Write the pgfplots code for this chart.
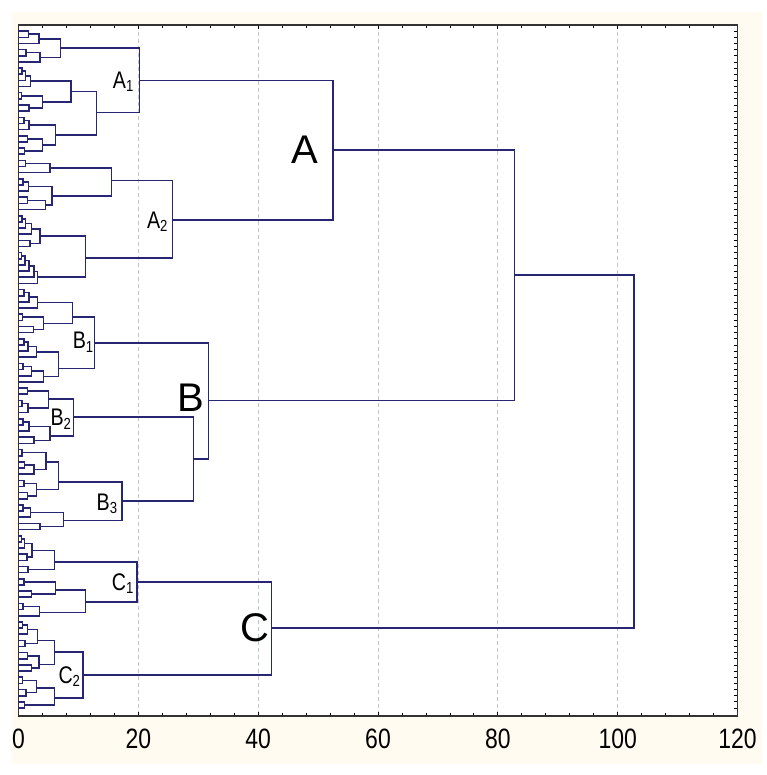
\documentclass[border=0pt]{standalone}
\usepackage{fontspec}
\setmainfont{Liberation Sans}
\newfontfamily\narrowsans{Liberation Sans}[FakeStretch=0.82]
\usepackage{pgfplots}
\pgfplotsset{compat=1.18}
\definecolor{dendro}{HTML}{262673}
\definecolor{paper}{HTML}{FFFBF0}
\definecolor{gridgray}{HTML}{C4C4C4}
\tikzset{dline/.style={dendro, solid, line width=0.8pt}}

\begin{document}
\begin{tikzpicture}
% page and cream frame (1 px of the reference = 0.5pt)
\fill[white] (0,0) rectangle (383pt,-387.5pt);
\fill[paper] (6pt,-6pt) rectangle (381pt,-382pt);
\begin{axis}[
    at={(9.25pt,-358pt)}, anchor=south west,
    scale only axis, width=359.5pt, height=345.5pt,
    xmin=0, xmax=120, ymin=-1, ymax=111.3, y dir=reverse,
    axis background/.style={fill=white},
    axis line style={black!80, line width=0.6pt},
    xtick={0,20,...,120}, minor x tick num=4,
    ytick={0,...,110}, yticklabel={\mbox{}},
    major tick length=2pt, minor tick length=1.3pt,
    tick style={black, line width=0.4pt},
    xmajorgrids,
    grid style={gridgray, dash pattern=on 2pt off 1.5pt, line width=0.4pt},
    xticklabel style={font=\narrowsans\fontsize{14}{14}\selectfont, yshift=-3pt},
    /pgf/number format/assume math mode=true,
    unbounded coords=jump,
    clip=false,
]

% ----- cluster A1 -----
\addplot[dline] coordinates {
(0,0) (1.7,0) (1.7,1) (0,1) (nan,nan)
(1.7,0.5) (3.4,0.5) (3.4,2) (0,2) (nan,nan)
(0,3) (1.3,3) (1.3,4) (0,4) (nan,nan)
(1.3,3.5) (3.6,3.5) (3.6,5) (0,5) (nan,nan)
(3.4,1.25) (7,1.25) (7,4.25) (3.6,4.25) (nan,nan)
(0,6) (0.6,6) (0.6,7) (0,7) (nan,nan)
(0.6,6.5) (1.2,6.5) (1.2,8) (0,8) (nan,nan)
(1.2,7.25) (2,7.25) (2,9) (0,9) (nan,nan)
(0,10) (0.5,10) (0.5,11) (0,11) (nan,nan)
(0,12) (1.8,12) (1.8,13) (0,13) (nan,nan)
(0.5,10.5) (4,10.5) (4,12.5) (1.8,12.5) (nan,nan)
(2,8.125) (8.8,8.125) (8.8,11.5) (4,11.5) (nan,nan)
(0,14) (0.9,14) (0.9,15) (0,15) (nan,nan)
(0.9,14.5) (1.8,14.5) (1.8,16) (0,16) (nan,nan)
(0,17) (1.5,17) (1.5,18) (0,18) (nan,nan)
(0,19) (1,19) (1,20) (0,20) (nan,nan)
(1.5,17.5) (4,17.5) (4,19.5) (1,19.5) (nan,nan)
(1.8,15.25) (6.2,15.25) (6.2,18.5) (4,18.5) (nan,nan)
(8.8,9.8) (13,9.8) (13,16.9) (6.2,16.9) (nan,nan)
(7,2.75) (20.2,2.75) (20.2,13.2) (13,13.2)
};

% ----- cluster A2 -----
\addplot[dline] coordinates {
(0,21) (1.2,21) (1.2,22) (0,22) (nan,nan)
(1.2,21.5) (5.3,21.5) (5.3,23) (0,23) (nan,nan)
(0,24) (0.8,24) (0.8,25) (0,25) (nan,nan)
(0.8,24.5) (1.7,24.5) (1.7,26) (0,26) (nan,nan)
(0,27) (1.5,27) (1.5,28) (0,28) (nan,nan)
(1.5,27.5) (4.5,27.5) (4.5,29) (0,29) (nan,nan)
(1.7,25.25) (5.6,25.25) (5.6,28.25) (4.5,28.25) (nan,nan)
(5.3,22.25) (15.5,22.25) (15.5,26.75) (5.6,26.75) (nan,nan)
(0,30) (0.6,30) (0.6,31) (0,31) (nan,nan)
(0.6,30.5) (1.2,30.5) (1.2,32) (0,32) (nan,nan)
(1.2,31.25) (2.2,31.25) (2.2,33) (0,33) (nan,nan)
(0,34) (1.9,34) (1.9,35) (0,35) (nan,nan)
(2.2,32.125) (3.6,32.125) (3.6,34.5) (1.9,34.5) (nan,nan)
(0,36) (0.5,36) (0.5,37) (0,37) (nan,nan)
(0.5,36.5) (1.1,36.5) (1.1,38) (0,38) (nan,nan)
(1.1,37.25) (1.8,37.25) (1.8,39) (0,39) (nan,nan)
(1.8,38.125) (2.6,38.125) (2.6,40) (0,40) (nan,nan)
(2.6,39.06) (3.2,39.06) (3.2,41) (0,41) (nan,nan)
(3.6,33.3) (11.2,33.3) (11.2,40) (3.2,40) (nan,nan)
(15.5,24.3) (25.7,24.3) (25.7,36.9) (11.2,36.9)
};

% ----- cluster B1 -----
\addplot[dline] coordinates {
(0,42) (0.9,42) (0.9,43) (0,43) (nan,nan)
(0.9,42.5) (1.8,42.5) (1.8,44) (0,44) (nan,nan)
(1.8,43.25) (3.2,43.25) (3.2,45) (0,45) (nan,nan)
(0,46) (0.7,46) (0.7,47) (0,47) (nan,nan)
(0,48) (2.5,48) (2.5,49) (0,49) (nan,nan)
(0.7,46.5) (4.2,46.5) (4.2,48.5) (2.5,48.5) (nan,nan)
(3.2,44.125) (9,44.125) (9,47.5) (4.2,47.5) (nan,nan)
(0,50) (0.9,50) (0.9,51) (0,51) (nan,nan)
(0.9,50.5) (1.6,50.5) (1.6,52) (0,52) (nan,nan)
(1.6,51.25) (3,51.25) (3,53) (0,53) (nan,nan)
(0,54) (0.8,54) (0.8,55) (0,55) (nan,nan)
(0.8,54.5) (2.2,54.5) (2.2,56) (0,56) (nan,nan)
(2.2,55.25) (4.2,55.25) (4.2,57) (0,57) (nan,nan)
(3,52.125) (6.7,52.125) (6.7,56.125) (4.2,56.125) (nan,nan)
(9,46.5) (12.7,46.5) (12.7,54.8) (6.7,54.8)
};

% ----- cluster B2 -----
\addplot[dline] coordinates {
(0,58) (1.5,58) (1.5,59) (0,59) (nan,nan)
(0,60) (0.6,60) (0.6,61) (0,61) (nan,nan)
(0.6,60.5) (1.6,60.5) (1.6,62) (0,62) (nan,nan)
(1.5,58.5) (5,58.5) (5,61.25) (1.6,61.25) (nan,nan)
(0,63) (0.8,63) (0.8,64) (0,64) (nan,nan)
(0.8,63.5) (1.8,63.5) (1.8,65) (0,65) (nan,nan)
(0,66) (2.6,66) (2.6,67) (0,67) (nan,nan)
(1.8,64.25) (5.3,64.25) (5.3,66.5) (2.6,66.5) (nan,nan)
(5,59.8) (9.2,59.8) (9.2,65.8) (5.3,65.8)
};

% ----- cluster B3 -----
\addplot[dline] coordinates {
(0,68) (0.6,68) (0.6,69) (0,69) (nan,nan)
(0,70) (1,70) (1,71) (0,71) (nan,nan)
(1,70.5) (2.6,70.5) (2.6,72) (0,72) (nan,nan)
(0.6,68.5) (4.6,68.5) (4.6,71.25) (2.6,71.25) (nan,nan)
(0,73) (0.9,73) (0.9,74) (0,74) (nan,nan)
(0,75) (1.5,75) (1.5,76) (0,76) (nan,nan)
(0.9,73.5) (3,73.5) (3,75.5) (1.5,75.5) (nan,nan)
(4.6,70) (6.7,70) (6.7,74.5) (3,74.5) (nan,nan)
(0,77) (0.8,77) (0.8,78) (0,78) (nan,nan)
(0.8,77.5) (2,77.5) (2,79) (0,79) (nan,nan)
(0,80) (3.6,80) (3.6,81) (0,81) (nan,nan)
(2,78.25) (7.5,78.25) (7.5,80.5) (3.6,80.5) (nan,nan)
(6.7,73.3) (17.3,73.3) (17.3,79.5) (7.5,79.5)
};

% ----- cluster C1 -----
\addplot[dline] coordinates {
(0,82) (0.5,82) (0.5,83) (0,83) (nan,nan)
(0.5,82.5) (1,82.5) (1,84) (0,84) (nan,nan)
(0,85) (1.4,85) (1.4,86) (0,86) (nan,nan)
(1,83.25) (2.3,83.25) (2.3,85.5) (1.4,85.5) (nan,nan)
(0,87) (1.6,87) (1.6,88) (0,88) (nan,nan)
(2.3,84.4) (6,84.4) (6,87.5) (1.6,87.5) (nan,nan)
(0,89) (0.9,89) (0.9,90) (0,90) (nan,nan)
(0,91) (2.2,91) (2.2,92) (0,92) (nan,nan)
(0.9,89.5) (6.2,89.5) (6.2,91.5) (2.2,91.5) (nan,nan)
(0,93) (0.8,93) (0.8,94) (0,94) (nan,nan)
(0.8,93.5) (3.5,93.5) (3.5,95) (0,95) (nan,nan)
(6.2,90.8) (11.2,90.8) (11.2,94.5) (3.5,94.5) (nan,nan)
(6,86.3) (19.8,86.3) (19.8,92.8) (11.2,92.8)
};

% ----- cluster C2 -----
\addplot[dline] coordinates {
(0,96) (0.7,96) (0.7,97) (0,97) (nan,nan)
(0.7,96.5) (1.5,96.5) (1.5,98) (0,98) (nan,nan)
(0,99) (1.1,99) (1.1,100) (0,100) (nan,nan)
(1.5,97.25) (3.2,97.25) (3.2,99.5) (1.1,99.5) (nan,nan)
(0,101) (1.5,101) (1.5,102) (0,102) (nan,nan)
(0,103) (2.2,103) (2.2,104) (0,104) (nan,nan)
(1.5,101.5) (3.4,101.5) (3.4,103.5) (2.2,103.5) (nan,nan)
(3.2,99) (6,99) (6,102.9) (3.4,102.9) (nan,nan)
(0,105) (0.7,105) (0.7,106) (0,106) (nan,nan)
(0,107) (1.3,107) (1.3,108) (0,108) (nan,nan)
(0.7,105.5) (3,105.5) (3,107.5) (1.3,107.5) (nan,nan)
(0,109) (1,109) (1,110) (0,110) (nan,nan)
(3,106.7) (6,106.7) (6,109.5) (1,109.5) (nan,nan)
(6,100.9) (10.8,100.9) (10.8,108.4) (6,108.4)
};

% ----- upper levels: A, B, C and the root -----
\addplot[dline] coordinates {
(20.2,8) (52.5,8) (52.5,30.7) (25.7,30.7) (nan,nan)
(9.2,62.7) (29.2,62.7) (29.2,76.4) (17.3,76.4) (nan,nan)
(12.7,50.7) (31.7,50.7) (31.7,69.5) (29.2,69.5) (nan,nan)
(52.5,19.3) (82.8,19.3) (82.8,60) (31.7,60) (nan,nan)
(19.8,89.5) (42.2,89.5) (42.2,104.6) (10.8,104.6) (nan,nan)
(82.8,39.6) (102.7,39.6) (102.7,97) (42.2,97)
};

% ----- cluster labels -----
\node[font=\fontsize{20}{20}\selectfont, inner sep=0] at (axis cs:47.8,19.3) {A};
\node[font=\fontsize{20}{20}\selectfont, inner sep=0] at (axis cs:28.8,59.5) {B};
\node[font=\fontsize{20}{20}\selectfont, inner sep=0] at (axis cs:39.5,97.0) {C};
\begin{scope}[every node/.style={anchor=east, inner sep=0, font=\narrowsans\fontsize{12}{12}\selectfont}]
\node at (axis cs:19.4,8.2) {A\textsubscript{1}};
\node at (axis cs:25.1,31.0) {A\textsubscript{2}};
\node at (axis cs:12.7,50.6) {B\textsubscript{1}};
\node at (axis cs:9.0,63.1) {B\textsubscript{2}};
\node at (axis cs:16.7,76.8) {B\textsubscript{3}};
\node at (axis cs:19.4,89.8) {C\textsubscript{1}};
\node at (axis cs:10.5,104.9) {C\textsubscript{2}};
\end{scope}
\end{axis}
\end{tikzpicture}
\end{document}
